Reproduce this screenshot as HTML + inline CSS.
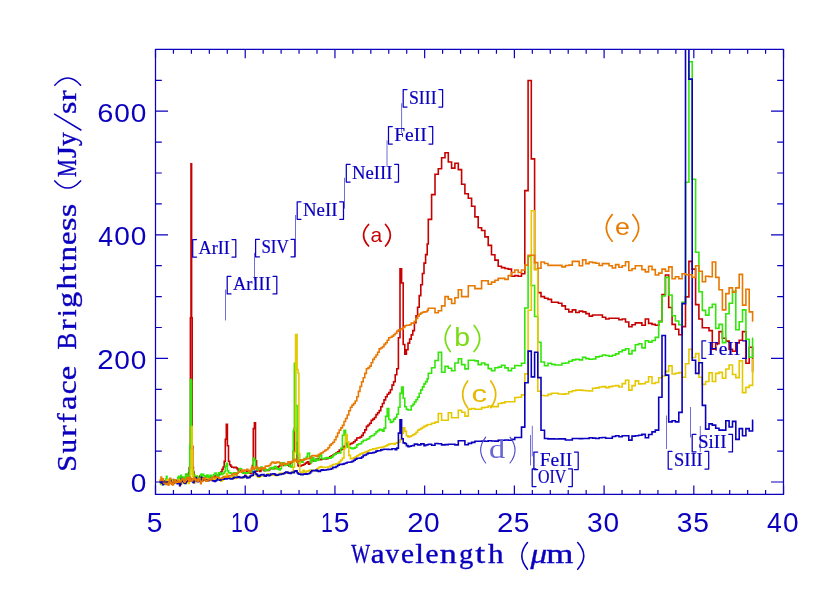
<!DOCTYPE html>
<html><head><meta charset="utf-8"><title>Spectra</title>
<style>html,body{margin:0;padding:0;background:#fff}svg{display:block}text{font-family:"Liberation Sans",sans-serif}.sf{font-family:"Liberation Serif",serif}</style></head><body>
<svg width="830" height="593" viewBox="0 0 830 593" style="will-change:transform">
<rect width="830" height="593" fill="#fff"/>
<defs><clipPath id="cp"><rect x="155.5" y="49.3" width="628.0" height="445.1"/></clipPath></defs>
<path d="M191.5,238.0V258.0M225.5,289.6V320.4M254.5,252.9V280.3M295.5,215.0V257.0M344.5,177.8V208.6M387.0,140.3V166.5M401.6,103.2V133.0M532.3,425.8V456.4M530.5,435.0V465.5M666.5,415.5V449.0M690.5,407.0V437.5M700.3,426.0V452.0" stroke="#0a00be" stroke-width="0.8" fill="none" stroke-opacity="0.72"/>
<g clip-path="url(#cp)" fill="none" stroke-width="1.6" stroke-linejoin="miter" stroke-linecap="butt">
<path d="M159.8,480.3 L160.4,480.3 L160.4,482.2 L161.0,482.2 L161.0,483.3 L161.6,483.3 L161.6,483.1 L162.2,483.1 L162.2,482.3 L162.8,482.3 L162.8,483.5 L163.4,483.5 L163.4,481.0 L164.0,481.0 L164.0,481.8 L164.6,481.8 L165.2,481.8 L165.2,481.3 L165.8,481.3 L165.8,480.9 L166.4,480.9 L166.4,483.7 L167.0,483.7 L167.0,483.1 L167.6,483.1 L167.6,481.8 L168.2,481.8 L168.2,480.9 L168.8,480.9 L168.8,482.5 L169.4,482.5 L169.4,482.6 L170.0,482.6 L170.6,482.6 L170.6,481.6 L171.2,481.6 L171.2,481.2 L171.8,481.2 L171.8,482.0 L172.4,482.0 L172.4,480.1 L173.0,480.1 L173.0,479.6 L173.6,479.6 L173.6,480.0 L174.2,480.0 L174.2,480.3 L174.8,480.3 L174.8,481.7 L175.4,481.7 L175.4,482.0 L176.0,482.0 L176.0,482.4 L176.6,482.4 L176.6,481.5 L177.2,481.5 L177.2,480.7 L177.8,480.7 L177.8,481.7 L178.4,481.7 L178.4,481.9 L179.0,481.9 L179.0,482.1 L179.6,482.1 L179.6,482.3 L180.2,482.3 L180.2,481.8 L180.8,481.8 L180.8,481.4 L181.4,481.4 L181.4,481.8 L182.0,481.8 L182.0,480.0 L182.6,480.0 L182.6,478.0 L183.2,478.0 L183.2,478.8 L183.8,478.8 L183.8,480.6 L184.4,480.6 L184.4,481.7 L185.0,481.7 L185.0,480.7 L185.6,480.7 L185.6,478.3 L186.2,478.3 L186.2,479.5 L186.8,479.5 L186.8,480.4 L187.4,480.4 L187.4,478.1 L188.0,478.1 L188.0,474.7 L188.6,474.7 L188.6,472.8 L189.2,472.8 L189.2,467.5 L189.8,467.5 L189.8,445.9 L190.4,445.9 L190.4,317.7 L191.0,317.7 L191.0,163.7 L191.6,163.7 L191.6,317.8 L192.2,317.8 L192.2,446.3 L192.8,446.3 L192.8,467.2 L193.4,467.2 L193.4,472.0 L194.0,472.0 L194.0,475.2 L194.6,475.2 L194.6,477.3 L195.2,477.3 L195.2,478.1 L195.8,478.1 L195.8,479.1 L196.4,479.1 L196.4,477.7 L197.0,477.7 L197.0,478.1 L197.6,478.1 L197.6,479.0 L198.2,479.0 L198.2,478.6 L198.8,478.6 L198.8,478.4 L199.4,478.4 L199.4,477.0 L200.0,477.0 L200.0,475.7 L200.6,475.7 L200.6,476.2 L201.2,476.2 L201.2,480.2 L201.5,480.2 L201.5,481.3 L202.6,481.3 L202.6,479.5 L203.7,479.5 L203.7,478.3 L204.7,478.3 L204.7,477.6 L205.8,477.6 L205.8,478.5 L206.9,478.5 L206.9,480.1 L208.0,480.1 L208.0,478.8 L209.1,478.8 L209.1,477.3 L210.1,477.3 L210.1,477.1 L211.2,477.1 L211.2,476.8 L212.3,476.8 L212.3,477.2 L213.4,477.2 L213.4,477.0 L214.5,477.0 L214.5,476.2 L215.5,476.2 L215.5,475.5 L216.6,475.5 L216.6,475.2 L217.7,475.2 L217.7,475.0 L218.8,475.0 L218.8,474.8 L219.9,474.8 L219.9,473.4 L220.9,473.4 L220.9,471.8 L222.0,471.8 L222.0,469.4 L223.1,469.4 L223.1,467.0 L224.2,467.0 L224.2,461.4 L225.3,461.4 L225.3,439.3 L226.3,439.3 L226.3,424.3 L227.4,424.3 L227.4,445.8 L228.5,445.8 L228.5,461.2 L229.6,461.2 L229.6,464.8 L230.7,464.8 L230.7,466.2 L231.7,466.2 L231.7,467.3 L232.8,467.3 L233.9,467.3 L233.9,467.8 L235.0,467.8 L235.0,467.2 L236.1,467.2 L236.1,467.7 L237.1,467.7 L237.1,468.9 L238.2,468.9 L238.2,470.5 L239.3,470.5 L239.3,470.3 L240.4,470.3 L240.4,470.4 L241.5,470.4 L241.5,472.0 L242.5,472.0 L242.5,472.3 L243.6,472.3 L243.6,472.6 L244.7,472.6 L244.7,473.6 L245.8,473.6 L245.8,472.4 L246.9,472.4 L246.9,471.9 L247.9,471.9 L247.9,472.8 L249.0,472.8 L249.0,472.7 L250.1,472.7 L250.1,473.3 L251.2,473.3 L251.2,472.8 L252.3,472.8 L252.3,465.5 L253.3,465.5 L253.3,428.6 L254.4,428.6 L254.4,422.9 L255.5,422.9 L255.5,460.8 L256.6,460.8 L256.6,471.1 L257.7,471.1 L257.7,469.6 L258.7,469.6 L258.7,469.4 L259.8,469.4 L259.8,471.4 L260.9,471.4 L260.9,469.5 L262.0,469.5 L262.0,468.4 L263.1,468.4 L263.1,469.8 L264.1,469.8 L264.1,470.7 L265.2,470.7 L265.2,469.5 L266.3,469.5 L266.3,469.7 L267.4,469.7 L267.4,470.4 L268.5,470.4 L269.5,470.4 L269.5,468.7 L270.6,468.7 L270.6,468.1 L271.7,468.1 L271.7,468.7 L272.8,468.7 L272.8,468.4 L273.9,468.4 L273.9,468.6 L274.9,468.6 L274.9,467.4 L276.0,467.4 L276.0,467.2 L277.1,467.2 L277.1,467.4 L278.2,467.4 L278.2,466.8 L279.3,466.8 L279.3,465.7 L280.3,465.7 L280.3,465.3 L281.4,465.3 L281.4,465.4 L282.5,465.4 L282.5,465.5 L283.6,465.5 L283.6,465.3 L284.7,465.3 L284.7,464.7 L285.7,464.7 L285.7,464.4 L286.8,464.4 L286.8,464.2 L287.9,464.2 L287.9,465.3 L289.0,465.3 L289.0,466.1 L290.1,466.1 L290.1,463.3 L291.1,463.3 L291.1,461.8 L292.2,461.8 L293.3,461.8 L293.3,451.2 L294.4,451.2 L294.4,428.2 L295.6,428.2 L295.6,442.8 L297.1,442.8 L297.1,462.1 L298.0,462.1 L298.0,465.8 L298.9,465.8 L298.9,466.1 L299.8,466.1 L300.9,466.1 L300.9,465.4 L302.0,465.4 L302.0,465.3 L303.1,465.3 L303.1,464.7 L304.1,464.7 L304.1,464.2 L305.2,464.2 L305.2,463.2 L306.3,463.2 L306.3,462.6 L307.4,462.6 L307.4,461.9 L308.5,461.9 L308.5,464.1 L309.5,464.1 L309.5,463.4 L310.6,463.4 L310.6,460.7 L311.7,460.7 L311.7,459.2 L312.8,459.2 L312.8,460.7 L313.9,460.7 L313.9,461.0 L314.9,461.0 L314.9,460.2 L316.0,460.2 L316.0,459.0 L317.1,459.0 L317.1,459.3 L318.2,459.3 L318.2,458.8 L319.3,458.8 L319.3,459.3 L320.3,459.3 L320.3,459.7 L321.6,459.7 L321.6,459.0 L323.2,459.0 L323.2,458.8 L324.8,458.8 L324.8,458.9 L326.4,458.9 L326.4,458.7 L328.0,458.7 L328.0,458.1 L329.6,458.1 L329.6,456.7 L331.2,456.7 L331.2,455.8 L332.8,455.8 L332.8,455.0 L334.4,455.0 L334.4,454.1 L336.0,454.1 L336.0,452.7 L337.6,452.7 L337.6,451.7 L339.2,451.7 L339.2,450.1 L340.8,450.1 L340.8,449.4 L342.4,449.4 L342.4,448.9 L344.0,448.9 L344.0,446.2 L345.6,446.2 L345.6,442.8 L347.2,442.8 L347.2,444.7 L348.8,444.7 L348.8,444.5 L350.4,444.5 L350.4,443.6 L352.0,443.6 L352.0,443.0 L353.6,443.0 L353.6,441.7 L355.2,441.7 L355.2,440.1 L356.8,440.1 L356.8,438.0 L358.4,438.0 L358.4,437.9 L360.0,437.9 L360.0,437.1 L361.6,437.1 L361.6,435.4 L363.2,435.4 L363.2,432.8 L364.8,432.8 L364.8,429.9 L366.4,429.9 L366.4,426.4 L368.0,426.4 L368.0,425.0 L369.6,425.0 L369.6,423.3 L371.2,423.3 L371.2,420.4 L372.8,420.4 L372.8,419.1 L374.4,419.1 L374.4,417.5 L376.0,417.5 L376.0,414.6 L377.6,414.6 L377.6,412.7 L379.2,412.7 L379.2,410.6 L380.8,410.6 L380.8,406.7 L382.4,406.7 L382.4,403.5 L384.0,403.5 L384.0,399.9 L385.6,399.9 L385.6,396.8 L387.2,396.8 L387.2,394.2 L388.8,394.2 L388.8,392.6 L390.4,392.6 L390.4,389.8 L392.0,389.8 L392.0,385.1 L393.6,385.1 L393.6,381.8 L395.2,381.8 L395.2,374.8 L396.8,374.8 L396.8,368.7 L398.4,368.7 L398.4,337.7 L400.0,337.7 L400.0,268.8 L401.6,268.8 L401.6,283.0 L403.2,283.0 L403.2,344.5 L404.8,344.5 L404.8,354.1 L406.4,354.1 L406.4,349.7 L408.0,349.7 L408.0,343.1 L409.6,343.1 L409.6,339.1 L411.2,339.1 L411.2,334.9 L412.8,334.9 L412.8,330.6 L414.4,330.6 L414.4,322.6 L416.0,322.6 L416.0,315.9 L417.6,315.9 L417.6,307.3 L419.2,307.3 L419.2,295.6 L420.8,295.6 L420.8,284.8 L422.4,284.8 L422.4,273.5 L424.0,273.5 L424.0,263.1 L425.6,263.1 L425.6,254.6 L427.2,254.6 L427.2,244.0 L428.3,244.0 L428.3,219.4 L431.6,219.4 L431.6,194.6 L435.0,194.6 L435.0,174.2 L438.3,174.2 L438.3,168.7 L441.6,168.7 L441.6,157.8 L445.0,157.8 L445.0,152.7 L448.3,152.7 L448.3,162.0 L451.6,162.0 L451.6,168.1 L454.9,168.1 L454.9,163.2 L458.3,163.2 L458.3,169.6 L461.6,169.6 L461.6,184.2 L464.9,184.2 L464.9,193.7 L468.3,193.7 L468.3,198.3 L471.6,198.3 L471.6,206.2 L474.9,206.2 L474.9,216.9 L478.2,216.9 L478.2,227.8 L481.6,227.8 L481.6,230.5 L484.9,230.5 L484.9,236.9 L488.2,236.9 L488.2,245.4 L491.5,245.4 L491.5,254.7 L494.9,254.7 L494.9,260.1 L498.2,260.1 L498.2,266.2 L501.5,266.2 L501.5,267.6 L504.9,267.6 L504.9,268.5 L508.2,268.5 L508.2,269.1 L511.5,269.1 L511.5,276.2 L514.8,276.2 L514.8,275.6 L518.2,275.6 L518.2,276.2 L521.5,276.2 L521.5,273.7 L524.8,273.7 L524.8,190.6 L528.1,190.6 L528.1,80.5 L531.3,80.5 L531.3,158.9 L534.6,158.9 L534.6,269.4 L537.8,269.4 L537.8,292.6 L541.0,292.6 L541.0,296.6 L544.5,296.6 L544.5,298.2 L548.0,298.2 L548.0,299.4 L551.5,299.4 L551.5,302.2 L554.9,302.2 L558.4,302.2 L558.4,303.2 L561.9,303.2 L561.9,305.9 L565.4,305.9 L565.4,309.2 L568.8,309.2 L568.8,311.9 L572.3,311.9 L572.3,309.9 L575.8,309.9 L575.8,312.5 L579.2,312.5 L579.2,311.1 L582.6,311.1 L582.6,311.9 L585.9,311.9 L585.9,313.6 L589.2,313.6 L589.2,316.1 L592.5,316.1 L592.5,315.0 L595.8,315.0 L599.1,315.0 L602.4,315.0 L602.4,317.2 L605.7,317.2 L605.7,319.0 L609.0,319.0 L609.0,318.3 L612.3,318.3 L615.6,318.3 L618.9,318.3 L618.9,319.8 L622.2,319.8 L622.2,319.0 L625.5,319.0 L625.5,322.0 L628.8,322.0 L628.8,326.8 L632.0,326.8 L632.0,324.8 L635.3,324.8 L635.3,322.9 L638.6,322.9 L641.9,322.9 L641.9,325.3 L645.3,325.3 L645.3,319.0 L648.6,319.0 L648.6,323.4 L652.0,323.4 L652.0,324.4 L655.3,324.4 L655.3,325.3 L658.7,325.3 L658.7,321.4 L662.0,321.4 L662.0,294.5 L665.4,294.5 L665.4,275.0 L668.7,275.0 L668.7,307.5 L672.1,307.5 L672.1,324.4 L675.4,324.4 L675.4,329.2 L678.8,329.2 L678.8,334.7 L682.1,334.7 L682.1,326.6 L685.5,326.6 L685.5,296.9 L688.9,296.9 L688.9,261.4 L692.2,261.4 L692.2,269.1 L695.6,269.1 L695.6,304.6 L698.9,304.6 L698.9,319.0 L702.3,319.0 L702.3,327.7 L705.6,327.7 L709.0,327.7 L709.0,330.6 L712.3,330.6 L712.3,349.1 L715.7,349.1 L715.7,343.6 L719.0,343.6 L719.0,331.6 L722.4,331.6 L722.4,338.3 L725.8,338.3 L725.8,341.1 L729.1,341.1 L729.1,349.3 L732.5,349.3 L732.5,351.2 L735.8,351.2 L735.8,342.9 L739.2,342.9 L739.2,340.2 L742.5,340.2 L742.5,331.6 L745.9,331.6 L745.9,363.2 L749.2,363.2 L749.2,347.3 L752.6,347.3 L752.6,371.4 L753.2,371.4" stroke="#c80000"/>
<path d="M159.8,482.7 L160.4,482.7 L160.4,483.5 L161.0,483.5 L161.0,484.5 L161.6,484.5 L161.6,481.2 L162.2,481.2 L162.2,484.2 L162.8,484.2 L162.8,483.7 L163.4,483.7 L163.4,481.7 L164.0,481.7 L164.0,483.7 L164.6,483.7 L164.6,484.3 L165.2,484.3 L165.2,482.9 L165.8,482.9 L165.8,479.0 L166.4,479.0 L166.4,476.3 L167.0,476.3 L167.0,479.8 L167.6,479.8 L167.6,482.1 L168.2,482.1 L168.2,480.5 L168.8,480.5 L168.8,481.0 L169.4,481.0 L169.4,479.9 L170.0,479.9 L170.0,478.5 L170.6,478.5 L170.6,480.6 L171.2,480.6 L171.2,480.9 L171.8,480.9 L171.8,481.4 L172.4,481.4 L172.4,480.3 L173.0,480.3 L173.0,479.8 L173.6,479.8 L173.6,481.2 L174.2,481.2 L174.2,480.7 L174.8,480.7 L174.8,480.3 L175.4,480.3 L175.4,481.1 L176.0,481.1 L176.0,482.4 L176.6,482.4 L176.6,482.3 L177.2,482.3 L177.2,480.1 L177.8,480.1 L177.8,477.9 L178.4,477.9 L178.4,476.4 L179.0,476.4 L179.0,481.4 L179.6,481.4 L179.6,479.5 L180.2,479.5 L180.2,476.7 L180.8,476.7 L180.8,475.3 L181.4,475.3 L181.4,476.9 L182.0,476.9 L182.0,479.2 L182.6,479.2 L182.6,478.1 L183.2,478.1 L183.2,477.0 L183.8,477.0 L183.8,477.4 L184.4,477.4 L184.4,477.6 L185.0,477.6 L185.0,479.2 L185.6,479.2 L185.6,474.6 L186.2,474.6 L186.2,473.8 L186.8,473.8 L186.8,476.4 L187.4,476.4 L187.4,475.9 L188.0,475.9 L188.0,476.2 L188.6,476.2 L189.2,476.2 L189.2,471.0 L189.8,471.0 L189.8,445.5 L190.4,445.5 L190.4,379.6 L191.0,379.6 L191.0,380.2 L191.6,380.2 L191.6,446.9 L192.2,446.9 L192.2,468.7 L192.8,468.7 L192.8,471.2 L193.4,471.2 L193.4,475.4 L194.0,475.4 L194.0,475.0 L194.6,475.0 L194.6,476.8 L195.2,476.8 L195.2,481.0 L195.8,481.0 L195.8,478.9 L196.4,478.9 L196.4,476.8 L197.0,476.8 L197.0,476.0 L197.6,476.0 L197.6,477.0 L198.2,477.0 L198.2,480.8 L198.8,480.8 L198.8,478.2 L199.4,478.2 L199.4,478.8 L200.0,478.8 L200.0,479.6 L200.6,479.6 L200.6,475.1 L201.2,475.1 L201.2,474.0 L201.5,474.0 L201.5,476.0 L202.6,476.0 L202.6,474.4 L203.7,474.4 L203.7,475.7 L204.7,475.7 L204.7,476.6 L205.8,476.6 L205.8,476.1 L206.9,476.1 L206.9,475.0 L208.0,475.0 L208.0,478.1 L209.1,478.1 L209.1,476.2 L210.1,476.2 L210.1,475.2 L211.2,475.2 L211.2,477.5 L212.3,477.5 L212.3,476.2 L213.4,476.2 L213.4,474.7 L214.5,474.7 L214.5,473.2 L215.5,473.2 L215.5,473.0 L216.6,473.0 L216.6,475.4 L217.7,475.4 L217.7,476.1 L218.8,476.1 L218.8,472.9 L219.9,472.9 L219.9,472.5 L220.9,472.5 L220.9,474.4 L222.0,474.4 L222.0,474.0 L223.1,474.0 L223.1,473.3 L224.2,473.3 L224.2,471.8 L225.3,471.8 L225.3,466.4 L226.3,466.4 L226.3,463.2 L227.4,463.2 L227.4,470.7 L228.5,470.7 L228.5,472.5 L229.6,472.5 L229.6,472.9 L230.7,472.9 L230.7,473.3 L231.7,473.3 L232.8,473.3 L232.8,475.6 L233.9,475.6 L233.9,472.9 L235.0,472.9 L236.1,472.9 L236.1,474.4 L237.1,474.4 L237.1,473.2 L238.2,473.2 L238.2,471.9 L239.3,471.9 L239.3,468.6 L240.4,468.6 L240.4,468.7 L241.5,468.7 L241.5,471.3 L242.5,471.3 L242.5,473.2 L243.6,473.2 L244.7,473.2 L244.7,472.8 L245.8,472.8 L245.8,472.9 L246.9,472.9 L246.9,473.2 L247.9,473.2 L247.9,472.6 L249.0,472.6 L249.0,471.9 L250.1,471.9 L250.1,472.0 L251.2,472.0 L251.2,472.1 L252.3,472.1 L252.3,468.1 L253.3,468.1 L253.3,458.0 L254.4,458.0 L254.4,460.4 L255.5,460.4 L255.5,468.2 L256.6,468.2 L256.6,469.7 L257.7,469.7 L257.7,469.9 L258.7,469.9 L258.7,469.0 L259.8,469.0 L259.8,467.8 L260.9,467.8 L260.9,467.1 L262.0,467.1 L262.0,468.2 L263.1,468.2 L263.1,469.7 L264.1,469.7 L264.1,468.9 L265.2,468.9 L265.2,470.8 L266.3,470.8 L266.3,470.0 L267.4,470.0 L267.4,469.9 L268.5,469.9 L269.5,469.9 L269.5,468.2 L270.6,468.2 L270.6,467.7 L271.7,467.7 L271.7,467.5 L272.8,467.5 L272.8,469.0 L273.9,469.0 L273.9,467.1 L274.9,467.1 L274.9,466.4 L276.0,466.4 L276.0,467.7 L277.1,467.7 L277.1,469.2 L278.2,469.2 L278.2,468.8 L279.3,468.8 L279.3,470.0 L280.3,470.0 L280.3,468.7 L281.4,468.7 L281.4,462.7 L282.5,462.7 L282.5,462.8 L283.6,462.8 L283.6,463.6 L284.7,463.6 L284.7,465.5 L285.7,465.5 L285.7,464.9 L286.8,464.9 L286.8,464.2 L287.9,464.2 L287.9,464.4 L289.0,464.4 L289.0,465.2 L290.1,465.2 L290.1,466.4 L291.1,466.4 L291.1,467.2 L292.2,467.2 L292.2,461.3 L293.3,461.3 L293.3,430.6 L294.4,430.6 L294.4,363.4 L295.6,363.4 L295.6,405.6 L297.1,405.6 L297.1,454.2 L298.0,454.2 L298.0,462.0 L298.9,462.0 L298.9,463.1 L299.8,463.1 L299.8,460.9 L300.9,460.9 L300.9,461.7 L302.0,461.7 L302.0,462.3 L303.1,462.3 L303.1,460.1 L304.1,460.1 L304.1,458.6 L305.2,458.6 L305.2,458.8 L306.3,458.8 L306.3,457.0 L307.4,457.0 L307.4,453.6 L308.5,453.6 L308.5,453.1 L309.5,453.1 L309.5,456.9 L310.6,456.9 L310.6,462.6 L311.7,462.6 L311.7,459.6 L312.8,459.6 L312.8,457.6 L313.9,457.6 L313.9,460.3 L314.9,460.3 L314.9,461.3 L316.0,461.3 L316.0,459.3 L317.1,459.3 L317.1,460.1 L318.2,460.1 L318.2,459.9 L319.3,459.9 L319.3,455.9 L320.3,455.9 L320.3,454.8 L321.6,454.8 L321.6,458.5 L323.2,458.5 L323.2,458.9 L324.8,458.9 L324.8,458.1 L326.4,458.1 L326.4,457.6 L328.0,457.6 L328.0,457.9 L329.6,457.9 L329.6,458.3 L331.2,458.3 L331.2,457.1 L332.8,457.1 L332.8,455.5 L334.4,455.5 L334.4,454.3 L336.0,454.3 L336.0,453.3 L337.6,453.3 L337.6,453.0 L339.2,453.0 L340.8,453.0 L340.8,448.3 L342.4,448.3 L342.4,435.3 L344.0,435.3 L344.0,430.4 L345.6,430.4 L345.6,441.8 L347.2,441.8 L347.2,447.1 L348.8,447.1 L348.8,447.2 L350.4,447.2 L350.4,448.1 L352.0,448.1 L352.0,448.6 L353.6,448.6 L353.6,448.1 L355.2,448.1 L355.2,447.2 L356.8,447.2 L356.8,444.9 L358.4,444.9 L358.4,444.0 L360.0,444.0 L360.0,443.7 L361.6,443.7 L361.6,441.7 L363.2,441.7 L363.2,440.4 L364.8,440.4 L364.8,440.2 L366.4,440.2 L366.4,439.3 L368.0,439.3 L368.0,438.7 L369.6,438.7 L369.6,436.7 L371.2,436.7 L371.2,435.8 L372.8,435.8 L372.8,435.5 L374.4,435.5 L374.4,433.8 L376.0,433.8 L376.0,431.9 L377.6,431.9 L377.6,430.6 L379.2,430.6 L379.2,429.4 L380.8,429.4 L380.8,429.9 L382.4,429.9 L382.4,431.1 L384.0,431.1 L384.0,428.1 L385.6,428.1 L385.6,416.4 L387.2,416.4 L387.2,408.5 L388.8,408.5 L388.8,419.5 L390.4,419.5 L390.4,422.4 L392.0,422.4 L392.0,421.5 L393.6,421.5 L393.6,419.1 L395.2,419.1 L395.2,417.5 L396.8,417.5 L396.8,414.2 L398.4,414.2 L398.4,407.3 L400.0,407.3 L400.0,393.4 L401.6,393.4 L401.6,387.0 L403.2,387.0 L403.2,398.3 L404.8,398.3 L404.8,406.8 L406.4,406.8 L406.4,409.2 L408.0,409.2 L408.0,410.0 L409.6,410.0 L411.2,410.0 L411.2,405.9 L412.8,405.9 L412.8,404.4 L414.4,404.4 L414.4,401.9 L416.0,401.9 L416.0,399.8 L417.6,399.8 L417.6,397.1 L419.2,397.1 L419.2,393.2 L420.8,393.2 L420.8,389.9 L422.4,389.9 L422.4,386.9 L424.0,386.9 L424.0,383.9 L425.6,383.9 L425.6,381.6 L427.2,381.6 L427.2,378.9 L428.3,378.9 L428.3,373.2 L431.6,373.2 L431.6,367.7 L435.0,367.7 L435.0,360.5 L438.3,360.5 L438.3,352.2 L441.6,352.2 L441.6,372.3 L445.0,372.3 L445.0,366.4 L448.3,366.4 L448.3,368.3 L451.6,368.3 L451.6,370.8 L454.9,370.8 L454.9,363.0 L458.3,363.0 L458.3,358.8 L461.6,358.8 L461.6,364.6 L464.9,364.6 L464.9,368.9 L468.3,368.9 L468.3,360.3 L471.6,360.3 L474.9,360.3 L474.9,360.9 L478.2,360.9 L478.2,364.6 L481.6,364.6 L481.6,363.0 L484.9,363.0 L484.9,364.6 L488.2,364.6 L488.2,368.6 L491.5,368.6 L491.5,370.8 L494.9,370.8 L494.9,367.7 L498.2,367.7 L498.2,367.1 L501.5,367.1 L501.5,365.2 L504.9,365.2 L504.9,367.9 L508.2,367.9 L508.2,370.8 L511.5,370.8 L511.5,368.3 L514.8,368.3 L514.8,365.5 L518.2,365.5 L518.2,365.8 L521.5,365.8 L521.5,363.3 L524.8,363.3 L524.8,308.0 L528.1,308.0 L528.1,256.4 L531.3,256.4 L531.3,285.5 L534.6,285.5 L534.6,316.5 L537.8,316.5 L537.8,342.3 L541.0,342.3 L541.0,362.0 L544.5,362.0 L544.5,365.8 L548.0,365.8 L548.0,363.3 L551.5,363.3 L551.5,364.4 L554.9,364.4 L554.9,365.0 L558.4,365.0 L561.9,365.0 L561.9,363.3 L565.4,363.3 L565.4,363.0 L568.8,363.0 L568.8,361.3 L572.3,361.3 L572.3,359.9 L575.8,359.9 L575.8,359.3 L579.2,359.3 L579.2,359.9 L582.6,359.9 L582.6,357.3 L585.9,357.3 L585.9,358.6 L589.2,358.6 L589.2,359.3 L592.5,359.3 L592.5,359.0 L595.8,359.0 L595.8,356.9 L599.1,356.9 L599.1,356.3 L602.4,356.3 L602.4,355.0 L605.7,355.0 L605.7,355.5 L609.0,355.5 L609.0,356.3 L612.3,356.3 L612.3,355.3 L615.6,355.3 L615.6,353.9 L618.9,353.9 L618.9,351.8 L622.2,351.8 L622.2,350.1 L625.5,350.1 L625.5,348.8 L628.8,348.8 L628.8,353.9 L632.0,353.9 L632.0,350.6 L635.3,350.6 L635.3,344.7 L638.6,344.7 L638.6,343.8 L641.9,343.8 L641.9,347.9 L645.3,347.9 L645.3,340.7 L648.6,340.7 L648.6,342.1 L652.0,342.1 L652.0,340.5 L655.3,340.5 L655.3,337.4 L658.7,337.4 L658.7,321.9 L662.0,321.9 L662.0,296.0 L665.4,296.0 L665.4,277.4 L668.7,277.4 L668.7,295.0 L672.1,295.0 L672.1,315.8 L675.4,315.8 L675.4,321.0 L678.8,321.0 L678.8,324.8 L682.1,324.8 L682.1,302.2 L685.5,302.2 L685.5,182.3 L688.9,182.3 L688.9,61.8 L692.2,61.8 L692.2,179.2 L695.6,179.2 L695.6,252.2 L698.9,252.2 L698.9,291.7 L702.3,291.7 L702.3,310.4 L705.6,310.4 L705.6,315.1 L709.0,315.1 L709.0,307.5 L712.3,307.5 L712.3,304.3 L715.7,304.3 L715.7,328.4 L719.0,328.4 L719.0,324.4 L722.4,324.4 L722.4,342.6 L725.8,342.6 L725.8,313.7 L729.1,313.7 L729.1,303.2 L732.5,303.2 L732.5,291.2 L735.8,291.2 L735.8,329.7 L739.2,329.7 L739.2,321.8 L742.5,321.8 L742.5,309.9 L745.9,309.9 L745.9,339.2 L749.2,339.2 L749.2,357.2 L752.6,357.2 L752.6,338.3 L753.2,338.3" stroke="#32e60a"/>
<path d="M159.8,479.9 L160.4,479.9 L160.4,480.8 L161.0,480.8 L161.0,482.4 L161.6,482.4 L161.6,484.1 L162.2,484.1 L162.2,483.2 L162.8,483.2 L162.8,482.5 L163.4,482.5 L164.0,482.5 L164.0,482.7 L164.6,482.7 L164.6,482.5 L165.2,482.5 L165.2,483.1 L165.8,483.1 L165.8,483.3 L166.4,483.3 L166.4,481.2 L167.0,481.2 L167.0,480.0 L167.6,480.0 L167.6,479.8 L168.2,479.8 L168.2,481.4 L168.8,481.4 L168.8,482.6 L169.4,482.6 L169.4,483.4 L170.0,483.4 L170.0,483.5 L170.6,483.5 L170.6,481.9 L171.2,481.9 L171.2,483.3 L171.8,483.3 L171.8,483.8 L172.4,483.8 L172.4,482.1 L173.0,482.1 L173.0,480.3 L173.6,480.3 L173.6,481.5 L174.2,481.5 L174.2,483.2 L174.8,483.2 L174.8,482.8 L175.4,482.8 L175.4,481.5 L176.0,481.5 L176.0,482.0 L176.6,482.0 L176.6,482.8 L177.2,482.8 L177.2,482.0 L177.8,482.0 L177.8,480.2 L178.4,480.2 L178.4,479.6 L179.0,479.6 L179.0,482.4 L179.6,482.4 L179.6,483.0 L180.2,483.0 L180.2,483.6 L180.8,483.6 L180.8,484.8 L181.4,484.8 L181.4,483.8 L182.0,483.8 L182.0,482.4 L182.6,482.4 L182.6,480.6 L183.2,480.6 L183.2,481.6 L183.8,481.6 L183.8,482.9 L184.4,482.9 L184.4,481.3 L185.0,481.3 L185.0,482.0 L185.6,482.0 L185.6,483.4 L186.2,483.4 L186.2,482.7 L186.8,482.7 L186.8,482.3 L187.4,482.3 L187.4,482.2 L188.0,482.2 L188.0,482.1 L188.6,482.1 L188.6,483.5 L189.2,483.5 L189.2,481.7 L189.8,481.7 L189.8,479.3 L190.4,479.3 L190.4,474.2 L191.0,474.2 L191.0,450.2 L191.6,450.2 L191.6,426.6 L192.2,426.6 L192.2,450.4 L192.8,450.4 L192.8,476.2 L193.4,476.2 L193.4,480.6 L194.0,480.6 L194.0,482.5 L194.6,482.5 L194.6,482.6 L195.2,482.6 L195.2,482.4 L195.8,482.4 L195.8,479.5 L196.4,479.5 L196.4,478.6 L197.0,478.6 L197.0,479.4 L197.6,479.4 L197.6,478.7 L198.2,478.7 L198.2,480.3 L198.8,480.3 L199.4,480.3 L199.4,480.4 L200.0,480.4 L200.0,481.1 L200.6,481.1 L200.6,479.3 L201.2,479.3 L201.2,478.2 L201.5,478.2 L201.5,480.1 L202.6,480.1 L202.6,479.6 L203.7,479.6 L203.7,479.4 L204.7,479.4 L204.7,478.6 L205.8,478.6 L205.8,478.8 L206.9,478.8 L206.9,478.9 L208.0,478.9 L209.1,478.9 L209.1,479.5 L210.1,479.5 L210.1,480.0 L211.2,480.0 L211.2,479.1 L212.3,479.1 L212.3,479.8 L213.4,479.8 L213.4,479.2 L214.5,479.2 L214.5,478.9 L215.5,478.9 L215.5,479.4 L216.6,479.4 L216.6,478.8 L217.7,478.8 L217.7,478.1 L218.8,478.1 L218.8,478.8 L219.9,478.8 L219.9,480.0 L220.9,480.0 L220.9,481.1 L222.0,481.1 L222.0,480.1 L223.1,480.1 L223.1,479.3 L224.2,479.3 L224.2,478.7 L225.3,478.7 L225.3,476.4 L226.3,476.4 L226.3,473.5 L227.4,473.5 L227.4,475.7 L228.5,475.7 L228.5,477.7 L229.6,477.7 L229.6,477.8 L230.7,477.8 L230.7,478.5 L231.7,478.5 L231.7,477.8 L232.8,477.8 L232.8,476.3 L233.9,476.3 L233.9,477.0 L235.0,477.0 L235.0,478.4 L236.1,478.4 L236.1,477.9 L237.1,477.9 L237.1,476.9 L238.2,476.9 L238.2,476.5 L239.3,476.5 L239.3,477.2 L240.4,477.2 L240.4,477.8 L241.5,477.8 L241.5,477.7 L242.5,477.7 L242.5,476.9 L243.6,476.9 L244.7,476.9 L244.7,477.4 L245.8,477.4 L245.8,477.3 L246.9,477.3 L246.9,477.0 L247.9,477.0 L247.9,476.6 L249.0,476.6 L249.0,476.9 L250.1,476.9 L250.1,476.3 L251.2,476.3 L251.2,475.7 L252.3,475.7 L252.3,475.6 L253.3,475.6 L253.3,473.9 L254.4,473.9 L254.4,472.2 L255.5,472.2 L255.5,474.8 L256.6,474.8 L256.6,476.0 L257.7,476.0 L257.7,476.9 L258.7,476.9 L258.7,477.3 L259.8,477.3 L259.8,476.1 L260.9,476.1 L260.9,475.6 L262.0,475.6 L262.0,475.7 L263.1,475.7 L264.1,475.7 L264.1,476.1 L265.2,476.1 L265.2,476.2 L266.3,476.2 L266.3,475.3 L267.4,475.3 L267.4,473.9 L268.5,473.9 L268.5,474.4 L269.5,474.4 L269.5,475.2 L270.6,475.2 L270.6,474.9 L271.7,474.9 L271.7,475.2 L272.8,475.2 L272.8,475.0 L273.9,475.0 L273.9,474.3 L274.9,474.3 L274.9,475.1 L276.0,475.1 L276.0,475.8 L277.1,475.8 L277.1,475.2 L278.2,475.2 L278.2,474.2 L279.3,474.2 L279.3,473.6 L280.3,473.6 L280.3,473.2 L281.4,473.2 L281.4,473.7 L282.5,473.7 L282.5,473.2 L283.6,473.2 L283.6,473.0 L284.7,473.0 L284.7,473.1 L285.7,473.1 L285.7,472.6 L286.8,472.6 L286.8,472.7 L287.9,472.7 L287.9,473.1 L289.0,473.1 L289.0,472.6 L290.1,472.6 L290.1,473.2 L291.1,473.2 L291.1,472.8 L292.2,472.8 L292.2,471.7 L293.3,471.7 L293.3,467.1 L294.4,467.1 L294.4,452.3 L295.6,452.3 L295.6,334.6 L297.1,334.6 L297.1,369.5 L298.0,369.5 L298.0,373.2 L298.9,373.2 L298.9,453.6 L299.8,453.6 L299.8,472.0 L300.9,472.0 L300.9,472.6 L302.0,472.6 L302.0,472.3 L303.1,472.3 L303.1,470.4 L304.1,470.4 L304.1,471.5 L305.2,471.5 L305.2,472.2 L306.3,472.2 L306.3,471.0 L307.4,471.0 L307.4,471.5 L308.5,471.5 L308.5,470.7 L309.5,470.7 L309.5,470.1 L310.6,470.1 L310.6,470.7 L311.7,470.7 L312.8,470.7 L312.8,470.3 L313.9,470.3 L313.9,470.2 L314.9,470.2 L314.9,470.7 L316.0,470.7 L316.0,470.3 L317.1,470.3 L317.1,468.9 L318.2,468.9 L318.2,467.7 L319.3,467.7 L319.3,467.2 L320.3,467.2 L320.3,466.5 L321.6,466.5 L321.6,467.3 L323.2,467.3 L323.2,467.4 L324.8,467.4 L324.8,467.3 L326.4,467.3 L326.4,467.4 L328.0,467.4 L328.0,467.0 L329.6,467.0 L329.6,466.4 L331.2,466.4 L331.2,465.3 L332.8,465.3 L332.8,464.5 L334.4,464.5 L334.4,464.2 L336.0,464.2 L336.0,463.8 L337.6,463.8 L337.6,463.3 L339.2,463.3 L339.2,461.6 L340.8,461.6 L340.8,460.0 L342.4,460.0 L342.4,458.0 L344.0,458.0 L344.0,448.5 L345.6,448.5 L345.6,434.6 L347.2,434.6 L347.2,441.9 L348.8,441.9 L348.8,455.4 L350.4,455.4 L350.4,458.8 L352.0,458.8 L352.0,458.5 L353.6,458.5 L353.6,457.7 L355.2,457.7 L355.2,456.8 L356.8,456.8 L356.8,455.9 L358.4,455.9 L358.4,454.9 L360.0,454.9 L360.0,453.9 L361.6,453.9 L361.6,453.2 L363.2,453.2 L363.2,452.8 L364.8,452.8 L364.8,452.1 L366.4,452.1 L366.4,451.5 L368.0,451.5 L368.0,450.7 L369.6,450.7 L369.6,449.7 L371.2,449.7 L371.2,449.5 L372.8,449.5 L372.8,448.9 L374.4,448.9 L376.0,448.9 L376.0,448.4 L377.6,448.4 L377.6,447.8 L379.2,447.8 L379.2,447.6 L380.8,447.6 L380.8,447.3 L382.4,447.3 L382.4,447.0 L384.0,447.0 L384.0,446.5 L385.6,446.5 L385.6,445.8 L387.2,445.8 L387.2,444.9 L388.8,444.9 L388.8,444.1 L390.4,444.1 L390.4,443.8 L392.0,443.8 L392.0,443.5 L393.6,443.5 L393.6,444.1 L395.2,444.1 L395.2,443.3 L396.8,443.3 L396.8,442.6 L398.4,442.6 L398.4,442.3 L400.0,442.3 L400.0,439.7 L401.6,439.7 L401.6,433.2 L403.2,433.2 L403.2,427.7 L404.8,427.7 L404.8,431.4 L406.4,431.4 L406.4,435.8 L408.0,435.8 L408.0,436.9 L409.6,436.9 L409.6,436.4 L411.2,436.4 L411.2,435.7 L412.8,435.7 L412.8,434.7 L414.4,434.7 L414.4,433.9 L416.0,433.9 L416.0,432.3 L417.6,432.3 L417.6,430.3 L419.2,430.3 L419.2,429.4 L420.8,429.4 L420.8,428.5 L422.4,428.5 L422.4,427.4 L424.0,427.4 L424.0,426.4 L425.6,426.4 L425.6,425.6 L427.2,425.6 L427.2,424.8 L428.3,424.8 L428.3,424.5 L431.6,424.5 L431.6,423.3 L435.0,423.3 L435.0,422.1 L438.3,422.1 L438.3,413.5 L441.6,413.5 L441.6,420.2 L445.0,420.2 L448.3,420.2 L448.3,412.8 L451.6,412.8 L451.6,417.7 L454.9,417.7 L458.3,417.7 L458.3,410.3 L461.6,410.3 L461.6,412.2 L464.9,412.2 L464.9,416.1 L468.3,416.1 L468.3,409.1 L471.6,409.1 L471.6,408.5 L474.9,408.5 L474.9,409.3 L478.2,409.3 L481.6,409.3 L481.6,407.6 L484.9,407.6 L484.9,407.2 L488.2,407.2 L488.2,406.0 L491.5,406.0 L491.5,406.6 L494.9,406.6 L498.2,406.6 L498.2,403.5 L501.5,403.5 L501.5,402.9 L504.9,402.9 L504.9,401.7 L508.2,401.7 L511.5,401.7 L514.8,401.7 L514.8,397.5 L518.2,397.5 L518.2,397.3 L521.5,397.3 L521.5,394.9 L524.8,394.9 L524.8,373.9 L528.1,373.9 L528.1,310.2 L531.3,310.2 L531.3,210.7 L534.6,210.7 L534.6,269.4 L537.8,269.4 L537.8,391.2 L541.0,391.2 L541.0,395.5 L544.5,395.5 L544.5,395.7 L548.0,395.7 L548.0,394.4 L551.5,394.4 L551.5,393.3 L554.9,393.3 L558.4,393.3 L558.4,394.0 L561.9,394.0 L561.9,394.1 L565.4,394.1 L565.4,393.8 L568.8,393.8 L568.8,391.7 L572.3,391.7 L572.3,390.7 L575.8,390.7 L575.8,390.1 L579.2,390.1 L582.6,390.1 L582.6,390.5 L585.9,390.5 L585.9,390.7 L589.2,390.7 L589.2,391.0 L592.5,391.0 L592.5,388.3 L595.8,388.3 L595.8,387.9 L599.1,387.9 L599.1,387.0 L602.4,387.0 L602.4,386.6 L605.7,386.6 L605.7,387.6 L609.0,387.6 L609.0,386.6 L612.3,386.6 L612.3,386.0 L615.6,386.0 L615.6,385.6 L618.9,385.6 L618.9,387.0 L622.2,387.0 L622.2,383.6 L625.5,383.6 L625.5,380.2 L628.8,380.2 L628.8,390.1 L632.0,390.1 L632.0,385.6 L635.3,385.6 L635.3,380.9 L638.6,380.9 L638.6,383.9 L641.9,383.9 L641.9,383.7 L645.3,383.7 L645.3,382.0 L648.6,382.0 L648.6,376.7 L652.0,376.7 L652.0,383.5 L655.3,383.5 L655.3,382.5 L658.7,382.5 L658.7,377.7 L662.0,377.7 L662.0,376.0 L665.4,376.0 L665.4,371.4 L668.7,371.4 L668.7,365.9 L672.1,365.9 L672.1,374.0 L675.4,374.0 L675.4,373.2 L678.8,373.2 L678.8,372.6 L682.1,372.6 L682.1,377.2 L685.5,377.2 L685.5,363.7 L688.9,363.7 L688.9,349.3 L692.2,349.3 L692.2,357.5 L695.6,357.5 L695.6,353.6 L698.9,353.6 L698.9,377.2 L702.3,377.2 L702.3,384.4 L705.6,384.4 L705.6,381.5 L709.0,381.5 L709.0,372.9 L712.3,372.9 L712.3,381.5 L715.7,381.5 L715.7,373.4 L719.0,373.4 L719.0,372.4 L722.4,372.4 L722.4,378.2 L725.8,378.2 L725.8,369.0 L729.1,369.0 L729.1,365.0 L732.5,365.0 L732.5,374.5 L735.8,374.5 L735.8,377.6 L739.2,377.6 L739.2,360.9 L742.5,360.9 L742.5,392.6 L745.9,392.6 L745.9,387.4 L749.2,387.4 L749.2,385.4 L752.6,385.4 L752.6,359.6 L753.2,359.6" stroke="#e6c800"/>
<path d="M159.8,481.7 L160.4,481.7 L160.4,481.8 L161.0,481.8 L161.0,482.8 L161.6,482.8 L161.6,481.8 L162.2,481.8 L162.2,483.1 L162.8,483.1 L162.8,484.7 L163.4,484.7 L163.4,483.5 L164.0,483.5 L164.0,481.6 L164.6,481.6 L164.6,482.0 L165.2,482.0 L165.2,483.3 L165.8,483.3 L165.8,482.0 L166.4,482.0 L166.4,481.9 L167.0,481.9 L167.0,481.7 L167.6,481.7 L167.6,482.3 L168.2,482.3 L168.2,483.6 L168.8,483.6 L168.8,482.8 L169.4,482.8 L169.4,482.4 L170.0,482.4 L170.0,480.4 L170.6,480.4 L170.6,480.8 L171.2,480.8 L171.2,482.6 L171.8,482.6 L171.8,483.8 L172.4,483.8 L172.4,482.9 L173.0,482.9 L173.6,482.9 L173.6,483.1 L174.2,483.1 L174.2,480.0 L174.8,480.0 L174.8,480.2 L175.4,480.2 L175.4,480.6 L176.0,480.6 L176.0,482.4 L176.6,482.4 L176.6,481.4 L177.2,481.4 L177.2,483.7 L177.8,483.7 L177.8,483.5 L178.4,483.5 L178.4,481.8 L179.0,481.8 L179.0,483.0 L179.6,483.0 L179.6,485.8 L180.2,485.8 L180.2,484.3 L180.8,484.3 L180.8,480.5 L181.4,480.5 L181.4,478.5 L182.0,478.5 L182.0,480.0 L182.6,480.0 L182.6,481.5 L183.2,481.5 L183.8,481.5 L183.8,482.8 L184.4,482.8 L184.4,482.3 L185.0,482.3 L185.0,483.4 L185.6,483.4 L185.6,482.5 L186.2,482.5 L186.2,481.5 L186.8,481.5 L186.8,480.8 L187.4,480.8 L187.4,481.1 L188.0,481.1 L188.0,480.2 L188.6,480.2 L188.6,480.8 L189.2,480.8 L189.2,479.8 L189.8,479.8 L189.8,479.7 L190.4,479.7 L190.4,480.9 L191.0,480.9 L191.0,479.1 L191.6,479.1 L191.6,479.5 L192.2,479.5 L192.2,481.4 L192.8,481.4 L192.8,481.9 L193.4,481.9 L193.4,482.8 L194.0,482.8 L194.0,480.9 L194.6,480.9 L194.6,480.1 L195.2,480.1 L195.2,479.3 L195.8,479.3 L195.8,477.5 L196.4,477.5 L196.4,479.4 L197.0,479.4 L197.0,481.1 L197.6,481.1 L197.6,481.7 L198.2,481.7 L198.2,481.3 L198.8,481.3 L198.8,481.4 L199.4,481.4 L199.4,479.9 L200.0,479.9 L200.0,481.0 L200.6,481.0 L200.6,479.9 L201.2,479.9 L201.2,477.4 L201.5,477.4 L201.5,478.1 L202.6,478.1 L202.6,479.9 L203.7,479.9 L203.7,479.6 L204.7,479.6 L204.7,480.0 L205.8,480.0 L205.8,479.9 L206.9,479.9 L206.9,480.3 L208.0,480.3 L208.0,480.7 L209.1,480.7 L209.1,479.9 L210.1,479.9 L210.1,479.5 L211.2,479.5 L211.2,480.2 L212.3,480.2 L212.3,480.8 L213.4,480.8 L213.4,480.9 L214.5,480.9 L214.5,481.4 L215.5,481.4 L215.5,480.8 L216.6,480.8 L216.6,480.0 L217.7,480.0 L217.7,478.7 L218.8,478.7 L218.8,479.7 L219.9,479.7 L219.9,480.3 L220.9,480.3 L220.9,479.1 L222.0,479.1 L223.1,479.1 L224.2,479.1 L224.2,478.9 L225.3,478.9 L226.3,478.9 L227.4,478.9 L227.4,478.2 L228.5,478.2 L228.5,478.3 L229.6,478.3 L229.6,478.8 L230.7,478.8 L230.7,478.9 L231.7,478.9 L232.8,478.9 L232.8,478.2 L233.9,478.2 L233.9,477.5 L235.0,477.5 L235.0,477.4 L236.1,477.4 L236.1,477.5 L237.1,477.5 L237.1,477.4 L238.2,477.4 L238.2,476.8 L239.3,476.8 L239.3,477.4 L240.4,477.4 L240.4,477.6 L241.5,477.6 L242.5,477.6 L242.5,477.4 L243.6,477.4 L243.6,476.9 L244.7,476.9 L244.7,475.8 L245.8,475.8 L245.8,476.6 L246.9,476.6 L246.9,477.9 L247.9,477.9 L247.9,477.7 L249.0,477.7 L249.0,477.4 L250.1,477.4 L250.1,476.0 L251.2,476.0 L251.2,475.4 L252.3,475.4 L252.3,475.2 L253.3,475.2 L253.3,472.1 L254.4,472.1 L254.4,471.4 L255.5,471.4 L255.5,473.7 L256.6,473.7 L256.6,474.6 L257.7,474.6 L257.7,475.9 L258.7,475.9 L258.7,476.3 L259.8,476.3 L259.8,475.3 L260.9,475.3 L260.9,474.8 L262.0,474.8 L262.0,474.6 L263.1,474.6 L264.1,474.6 L264.1,475.7 L265.2,475.7 L265.2,476.1 L266.3,476.1 L266.3,474.8 L267.4,474.8 L267.4,475.1 L268.5,475.1 L268.5,475.7 L269.5,475.7 L269.5,475.3 L270.6,475.3 L270.6,474.0 L271.7,474.0 L272.8,474.0 L272.8,473.9 L273.9,473.9 L273.9,473.8 L274.9,473.8 L274.9,474.6 L276.0,474.6 L276.0,475.1 L277.1,475.1 L277.1,475.0 L278.2,475.0 L278.2,474.8 L279.3,474.8 L279.3,474.4 L280.3,474.4 L281.4,474.4 L281.4,474.0 L282.5,474.0 L282.5,473.9 L283.6,473.9 L283.6,473.5 L284.7,473.5 L284.7,472.8 L285.7,472.8 L285.7,472.0 L286.8,472.0 L286.8,472.1 L287.9,472.1 L287.9,472.9 L289.0,472.9 L289.0,473.3 L290.1,473.3 L290.1,473.4 L291.1,473.4 L291.1,472.5 L292.2,472.5 L292.2,472.2 L293.3,472.2 L293.3,472.6 L294.4,472.6 L294.4,471.1 L295.6,471.1 L295.6,470.9 L297.1,470.9 L297.1,472.8 L298.0,472.8 L298.0,473.8 L298.9,473.8 L298.9,474.2 L299.8,474.2 L299.8,474.0 L300.9,474.0 L300.9,474.8 L302.0,474.8 L302.0,474.6 L303.1,474.6 L303.1,474.1 L304.1,474.1 L305.2,474.1 L305.2,473.8 L306.3,473.8 L306.3,474.1 L307.4,474.1 L307.4,473.7 L308.5,473.7 L308.5,473.8 L309.5,473.8 L309.5,473.0 L310.6,473.0 L310.6,471.7 L311.7,471.7 L311.7,470.6 L312.8,470.6 L313.9,470.6 L314.9,470.6 L314.9,470.8 L316.0,470.8 L316.0,470.1 L317.1,470.1 L317.1,470.9 L318.2,470.9 L318.2,471.4 L319.3,471.4 L319.3,471.5 L320.3,471.5 L320.3,470.4 L321.6,470.4 L321.6,469.9 L323.2,469.9 L323.2,470.1 L324.8,470.1 L324.8,470.0 L326.4,470.0 L326.4,469.7 L328.0,469.7 L328.0,469.4 L329.6,469.4 L329.6,469.3 L331.2,469.3 L331.2,468.6 L332.8,468.6 L332.8,467.4 L334.4,467.4 L336.0,467.4 L336.0,466.5 L337.6,466.5 L337.6,465.2 L339.2,465.2 L339.2,464.5 L340.8,464.5 L340.8,464.4 L342.4,464.4 L342.4,464.1 L344.0,464.1 L344.0,463.5 L345.6,463.5 L345.6,463.0 L347.2,463.0 L347.2,462.3 L348.8,462.3 L348.8,462.2 L350.4,462.2 L350.4,462.0 L352.0,462.0 L352.0,461.4 L353.6,461.4 L353.6,460.3 L355.2,460.3 L355.2,459.1 L356.8,459.1 L356.8,458.3 L358.4,458.3 L360.0,458.3 L360.0,458.1 L361.6,458.1 L361.6,457.0 L363.2,457.0 L363.2,455.4 L364.8,455.4 L364.8,455.0 L366.4,455.0 L366.4,454.0 L368.0,454.0 L368.0,453.1 L369.6,453.1 L369.6,453.2 L371.2,453.2 L371.2,453.0 L372.8,453.0 L372.8,452.6 L374.4,452.6 L374.4,452.2 L376.0,452.2 L376.0,451.1 L377.6,451.1 L377.6,450.7 L379.2,450.7 L379.2,450.8 L380.8,450.8 L380.8,449.9 L382.4,449.9 L382.4,449.5 L384.0,449.5 L384.0,449.3 L385.6,449.3 L385.6,449.2 L387.2,449.2 L387.2,449.4 L388.8,449.4 L388.8,449.5 L390.4,449.5 L392.0,449.5 L392.0,448.7 L393.6,448.7 L395.2,448.7 L395.2,449.7 L396.8,449.7 L396.8,448.1 L398.4,448.1 L398.4,433.1 L400.0,433.1 L400.0,419.8 L401.6,419.8 L401.6,438.7 L403.2,438.7 L403.2,442.9 L404.8,442.9 L404.8,443.5 L406.4,443.5 L406.4,445.6 L408.0,445.6 L408.0,446.6 L409.6,446.6 L409.6,446.2 L411.2,446.2 L411.2,445.8 L412.8,445.8 L412.8,445.6 L414.4,445.6 L414.4,444.1 L416.0,444.1 L417.6,444.1 L417.6,444.9 L419.2,444.9 L419.2,445.0 L420.8,445.0 L420.8,443.9 L422.4,443.9 L424.0,443.9 L424.0,445.8 L425.6,445.8 L425.6,445.0 L427.2,445.0 L427.2,444.7 L428.3,444.7 L428.3,444.3 L431.6,444.3 L431.6,445.2 L435.0,445.2 L435.0,443.5 L438.3,443.5 L438.3,443.7 L441.6,443.7 L441.6,444.9 L445.0,444.9 L445.0,444.6 L448.3,444.6 L448.3,444.2 L451.6,444.2 L454.9,444.2 L454.9,444.9 L458.3,444.9 L458.3,440.8 L461.6,440.8 L464.9,440.8 L464.9,444.7 L468.3,444.7 L468.3,443.4 L471.6,443.4 L471.6,442.4 L474.9,442.4 L474.9,441.3 L478.2,441.3 L481.6,441.3 L481.6,441.0 L484.9,441.0 L484.9,441.2 L488.2,441.2 L488.2,440.8 L491.5,440.8 L491.5,441.0 L494.9,441.0 L494.9,441.1 L498.2,441.1 L498.2,440.2 L501.5,440.2 L501.5,440.3 L504.9,440.3 L504.9,440.0 L508.2,440.0 L508.2,440.2 L511.5,440.2 L511.5,439.4 L514.8,439.4 L514.8,437.5 L518.2,437.5 L521.5,437.5 L521.5,427.1 L524.8,427.1 L524.8,382.8 L528.1,382.8 L528.1,351.1 L531.3,351.1 L531.3,376.9 L534.6,376.9 L534.6,352.2 L537.8,352.2 L537.8,377.6 L541.0,377.6 L541.0,430.3 L544.5,430.3 L544.5,438.5 L548.0,438.5 L548.0,438.9 L551.5,438.9 L554.9,438.9 L554.9,439.0 L558.4,439.0 L558.4,438.9 L561.9,438.9 L565.4,438.9 L565.4,440.0 L568.8,440.0 L572.3,440.0 L572.3,438.5 L575.8,438.5 L579.2,438.5 L579.2,438.6 L582.6,438.6 L582.6,438.5 L585.9,438.5 L589.2,438.5 L589.2,437.8 L592.5,437.8 L592.5,438.1 L595.8,438.1 L595.8,438.5 L599.1,438.5 L599.1,437.8 L602.4,437.8 L602.4,437.5 L605.7,437.5 L605.7,438.2 L609.0,438.2 L612.3,438.2 L612.3,436.5 L615.6,436.5 L615.6,435.8 L618.9,435.8 L618.9,436.7 L622.2,436.7 L622.2,435.8 L625.5,435.8 L628.8,435.8 L628.8,440.1 L632.0,440.1 L632.0,436.1 L635.3,436.1 L635.3,435.8 L638.6,435.8 L638.6,435.3 L641.9,435.3 L641.9,434.4 L645.3,434.4 L645.3,437.8 L648.6,437.8 L648.6,434.5 L652.0,434.5 L652.0,431.9 L655.3,431.9 L655.3,430.1 L658.7,430.1 L658.7,397.3 L662.0,397.3 L662.0,335.5 L665.4,335.5 L665.4,375.1 L668.7,375.1 L668.7,421.9 L672.1,421.9 L672.1,420.8 L675.4,420.8 L675.4,421.9 L678.8,421.9 L678.8,412.4 L682.1,412.4 L682.1,303.6 L685.5,303.6 L685.5,19.3 L688.9,19.3 L688.9,79.1 L692.2,79.1 L692.2,360.3 L695.6,360.3 L695.6,373.4 L698.9,373.4 L698.9,362.7 L702.3,362.7 L702.3,405.4 L705.6,405.4 L705.6,429.1 L709.0,429.1 L709.0,423.9 L712.3,423.9 L712.3,425.1 L715.7,425.1 L715.7,428.2 L719.0,428.2 L719.0,430.1 L722.4,430.1 L725.8,430.1 L725.8,420.8 L729.1,420.8 L729.1,427.0 L732.5,427.0 L732.5,421.4 L735.8,421.4 L735.8,439.4 L739.2,439.4 L739.2,428.6 L742.5,428.6 L742.5,435.8 L745.9,435.8 L745.9,428.6 L749.2,428.6 L749.2,431.0 L752.6,431.0 L752.6,420.2 L753.2,420.2" stroke="#0a00be"/>
<path d="M159.8,480.7 L160.4,480.7 L160.4,480.1 L161.0,480.1 L161.0,477.0 L161.6,477.0 L161.6,480.2 L162.2,480.2 L162.2,480.4 L162.8,480.4 L162.8,478.9 L163.4,478.9 L163.4,482.7 L164.0,482.7 L164.0,483.3 L164.6,483.3 L164.6,481.9 L165.2,481.9 L165.2,483.0 L165.8,483.0 L165.8,484.4 L166.4,484.4 L166.4,483.2 L167.0,483.2 L167.0,482.2 L167.6,482.2 L167.6,482.0 L168.2,482.0 L168.2,485.2 L168.8,485.2 L168.8,483.6 L169.4,483.6 L169.4,478.7 L170.0,478.7 L170.0,478.4 L170.6,478.4 L170.6,483.1 L171.2,483.1 L171.2,482.4 L171.8,482.4 L171.8,484.0 L172.4,484.0 L172.4,485.0 L173.0,485.0 L173.0,484.6 L173.6,484.6 L173.6,482.7 L174.2,482.7 L174.2,479.7 L174.8,479.7 L175.4,479.7 L175.4,481.5 L176.0,481.5 L176.0,482.5 L176.6,482.5 L176.6,482.1 L177.2,482.1 L177.2,481.4 L177.8,481.4 L177.8,480.6 L178.4,480.6 L178.4,482.3 L179.0,482.3 L179.0,482.1 L179.6,482.1 L179.6,481.8 L180.2,481.8 L180.2,481.5 L180.8,481.5 L180.8,480.9 L181.4,480.9 L181.4,479.9 L182.0,479.9 L182.0,478.7 L182.6,478.7 L182.6,479.5 L183.2,479.5 L183.2,478.5 L183.8,478.5 L183.8,481.1 L184.4,481.1 L184.4,482.3 L185.0,482.3 L185.0,481.1 L185.6,481.1 L185.6,480.2 L186.2,480.2 L186.2,479.4 L186.8,479.4 L186.8,477.5 L187.4,477.5 L188.0,477.5 L188.0,479.4 L188.6,479.4 L188.6,481.3 L189.2,481.3 L189.2,480.1 L189.8,480.1 L189.8,477.0 L190.4,477.0 L190.4,478.3 L191.0,478.3 L191.0,481.2 L191.6,481.2 L191.6,480.8 L192.2,480.8 L192.2,480.6 L192.8,480.6 L192.8,479.3 L193.4,479.3 L193.4,479.1 L194.0,479.1 L194.0,477.3 L194.6,477.3 L194.6,478.5 L195.2,478.5 L195.2,480.2 L195.8,480.2 L195.8,480.5 L196.4,480.5 L196.4,479.4 L197.0,479.4 L197.0,480.6 L197.6,480.6 L197.6,481.3 L198.2,481.3 L198.2,479.9 L198.8,479.9 L198.8,479.4 L199.4,479.4 L199.4,478.6 L200.0,478.6 L200.0,481.0 L200.6,481.0 L200.6,483.6 L201.2,483.6 L201.2,481.2 L201.5,481.2 L201.5,481.4 L202.6,481.4 L202.6,478.7 L203.7,478.7 L203.7,478.1 L204.7,478.1 L204.7,480.0 L205.8,480.0 L205.8,481.2 L206.9,481.2 L206.9,480.9 L208.0,480.9 L208.0,479.3 L209.1,479.3 L209.1,479.6 L210.1,479.6 L210.1,480.0 L211.2,480.0 L211.2,479.0 L212.3,479.0 L212.3,477.3 L213.4,477.3 L213.4,477.8 L214.5,477.8 L215.5,477.8 L215.5,477.4 L216.6,477.4 L216.6,477.1 L217.7,477.1 L217.7,477.3 L218.8,477.3 L218.8,478.4 L219.9,478.4 L219.9,478.5 L220.9,478.5 L222.0,478.5 L222.0,477.9 L223.1,477.9 L223.1,476.6 L224.2,476.6 L224.2,477.1 L225.3,477.1 L225.3,477.2 L226.3,477.2 L226.3,477.3 L227.4,477.3 L227.4,476.7 L228.5,476.7 L228.5,475.6 L229.6,475.6 L229.6,475.9 L230.7,475.9 L230.7,475.7 L231.7,475.7 L231.7,474.6 L232.8,474.6 L232.8,474.0 L233.9,474.0 L233.9,473.6 L235.0,473.6 L235.0,474.3 L236.1,474.3 L236.1,475.0 L237.1,475.0 L237.1,473.2 L238.2,473.2 L238.2,472.0 L239.3,472.0 L239.3,471.7 L240.4,471.7 L241.5,471.7 L241.5,470.1 L242.5,470.1 L242.5,471.2 L243.6,471.2 L243.6,470.4 L244.7,470.4 L244.7,470.1 L245.8,470.1 L245.8,470.2 L246.9,470.2 L246.9,469.4 L247.9,469.4 L247.9,470.3 L249.0,470.3 L249.0,471.7 L250.1,471.7 L250.1,470.6 L251.2,470.6 L251.2,468.2 L252.3,468.2 L252.3,467.1 L253.3,467.1 L253.3,469.1 L254.4,469.1 L254.4,468.3 L255.5,468.3 L255.5,466.7 L256.6,466.7 L256.6,467.0 L257.7,467.0 L257.7,468.1 L258.7,468.1 L258.7,469.2 L259.8,469.2 L260.9,469.2 L260.9,468.1 L262.0,468.1 L262.0,467.9 L263.1,467.9 L263.1,468.9 L264.1,468.9 L264.1,468.1 L265.2,468.1 L265.2,466.2 L266.3,466.2 L266.3,466.0 L267.4,466.0 L267.4,466.1 L268.5,466.1 L268.5,465.8 L269.5,465.8 L269.5,465.2 L270.6,465.2 L270.6,463.6 L271.7,463.6 L271.7,462.3 L272.8,462.3 L272.8,462.1 L273.9,462.1 L273.9,463.0 L274.9,463.0 L274.9,463.1 L276.0,463.1 L276.0,462.4 L277.1,462.4 L277.1,462.0 L278.2,462.0 L278.2,462.1 L279.3,462.1 L279.3,462.9 L280.3,462.9 L280.3,464.7 L281.4,464.7 L281.4,465.2 L282.5,465.2 L282.5,463.5 L283.6,463.5 L283.6,463.3 L284.7,463.3 L284.7,463.6 L285.7,463.6 L285.7,464.2 L286.8,464.2 L286.8,463.8 L287.9,463.8 L287.9,461.7 L289.0,461.7 L289.0,461.9 L290.1,461.9 L290.1,462.8 L291.1,462.8 L291.1,461.9 L292.2,461.9 L292.2,461.2 L293.3,461.2 L293.3,460.4 L294.4,460.4 L294.4,459.4 L295.6,459.4 L295.6,460.9 L297.1,460.9 L297.1,462.0 L298.0,462.0 L298.0,461.3 L298.9,461.3 L298.9,461.0 L299.8,461.0 L299.8,460.1 L300.9,460.1 L300.9,459.8 L302.0,459.8 L302.0,459.9 L303.1,459.9 L303.1,460.1 L304.1,460.1 L304.1,459.4 L305.2,459.4 L305.2,459.3 L306.3,459.3 L306.3,458.5 L307.4,458.5 L307.4,458.8 L308.5,458.8 L309.5,458.8 L309.5,457.7 L310.6,457.7 L310.6,457.2 L311.7,457.2 L311.7,455.7 L312.8,455.7 L312.8,455.6 L313.9,455.6 L314.9,455.6 L314.9,455.5 L316.0,455.5 L316.0,456.1 L317.1,456.1 L317.1,456.6 L318.2,456.6 L318.2,454.5 L319.3,454.5 L319.3,454.3 L320.3,454.3 L320.3,453.2 L321.6,453.2 L321.6,452.7 L323.2,452.7 L323.2,451.5 L324.8,451.5 L324.8,450.4 L326.4,450.4 L326.4,449.5 L328.0,449.5 L328.0,447.7 L329.6,447.7 L329.6,445.1 L331.2,445.1 L331.2,443.7 L332.8,443.7 L332.8,442.3 L334.4,442.3 L334.4,439.7 L336.0,439.7 L336.0,436.6 L337.6,436.6 L337.6,433.0 L339.2,433.0 L339.2,430.1 L340.8,430.1 L340.8,427.9 L342.4,427.9 L342.4,425.4 L344.0,425.4 L344.0,421.5 L345.6,421.5 L345.6,418.5 L347.2,418.5 L347.2,415.0 L348.8,415.0 L348.8,410.7 L350.4,410.7 L350.4,407.2 L352.0,407.2 L352.0,405.1 L353.6,405.1 L353.6,403.5 L355.2,403.5 L355.2,401.0 L356.8,401.0 L356.8,396.8 L358.4,396.8 L358.4,391.4 L360.0,391.4 L360.0,386.5 L361.6,386.5 L361.6,381.7 L363.2,381.7 L363.2,377.8 L364.8,377.8 L364.8,373.4 L366.4,373.4 L366.4,368.8 L368.0,368.8 L368.0,367.9 L369.6,367.9 L369.6,366.1 L371.2,366.1 L371.2,362.8 L372.8,362.8 L372.8,359.4 L374.4,359.4 L374.4,357.2 L376.0,357.2 L376.0,355.0 L377.6,355.0 L377.6,352.3 L379.2,352.3 L379.2,348.9 L380.8,348.9 L380.8,348.0 L382.4,348.0 L382.4,346.7 L384.0,346.7 L384.0,344.4 L385.6,344.4 L385.6,342.7 L387.2,342.7 L387.2,340.2 L388.8,340.2 L388.8,337.8 L390.4,337.8 L390.4,337.2 L392.0,337.2 L392.0,336.1 L393.6,336.1 L393.6,334.8 L395.2,334.8 L395.2,333.2 L396.8,333.2 L396.8,331.1 L398.4,331.1 L398.4,329.9 L400.0,329.9 L400.0,329.5 L401.6,329.5 L401.6,328.9 L403.2,328.9 L403.2,327.4 L404.8,327.4 L404.8,325.8 L406.4,325.8 L406.4,325.3 L408.0,325.3 L408.0,325.2 L409.6,325.2 L409.6,324.8 L411.2,324.8 L411.2,323.0 L412.8,323.0 L412.8,323.1 L414.4,323.1 L414.4,321.3 L416.0,321.3 L416.0,318.5 L417.6,318.5 L417.6,316.0 L419.2,316.0 L419.2,314.1 L420.8,314.1 L420.8,313.0 L422.4,313.0 L422.4,312.3 L424.0,312.3 L424.0,311.9 L425.6,311.9 L425.6,311.7 L427.2,311.7 L427.2,310.4 L428.3,310.4 L428.3,308.3 L431.6,308.3 L435.0,308.3 L435.0,312.7 L438.3,312.7 L438.3,310.8 L441.6,310.8 L441.6,305.9 L445.0,305.9 L445.0,296.6 L448.3,296.6 L448.3,299.1 L451.6,299.1 L451.6,303.5 L454.9,303.5 L454.9,297.8 L458.3,297.8 L458.3,289.8 L461.6,289.8 L461.6,296.6 L464.9,296.6 L468.3,296.6 L468.3,285.8 L471.6,285.8 L474.9,285.8 L474.9,288.6 L478.2,288.6 L481.6,288.6 L481.6,280.8 L484.9,280.8 L488.2,280.8 L488.2,284.2 L491.5,284.2 L491.5,282.1 L494.9,282.1 L494.9,280.2 L498.2,280.2 L498.2,278.4 L501.5,278.4 L504.9,278.4 L504.9,279.4 L508.2,279.4 L508.2,275.6 L511.5,275.6 L511.5,272.5 L514.8,272.5 L514.8,270.0 L518.2,270.0 L518.2,272.5 L521.5,272.5 L521.5,270.0 L524.8,270.0 L524.8,265.1 L528.1,265.1 L528.1,255.2 L531.3,255.2 L534.6,255.2 L534.6,262.6 L537.8,262.6 L537.8,268.2 L541.0,268.2 L541.0,262.0 L544.5,262.0 L544.5,263.5 L548.0,263.5 L548.0,265.4 L551.5,265.4 L554.9,265.4 L558.4,265.4 L561.9,265.4 L561.9,266.9 L565.4,266.9 L565.4,265.5 L568.8,265.5 L568.8,265.1 L572.3,265.1 L572.3,261.4 L575.8,261.4 L579.2,261.4 L579.2,265.7 L582.6,265.7 L582.6,259.7 L585.9,259.7 L585.9,263.6 L589.2,263.6 L589.2,262.0 L592.5,262.0 L592.5,262.6 L595.8,262.6 L595.8,263.2 L599.1,263.2 L599.1,265.5 L602.4,265.5 L602.4,263.6 L605.7,263.6 L609.0,263.6 L609.0,265.7 L612.3,265.7 L612.3,268.0 L615.6,268.0 L615.6,264.6 L618.9,264.6 L618.9,267.2 L622.2,267.2 L622.2,265.7 L625.5,265.7 L625.5,261.7 L628.8,261.7 L628.8,270.5 L632.0,270.5 L632.0,268.7 L635.3,268.7 L635.3,265.7 L638.6,265.7 L641.9,265.7 L641.9,269.6 L645.3,269.6 L645.3,271.9 L648.6,271.9 L648.6,266.3 L652.0,266.3 L652.0,269.6 L655.3,269.6 L655.3,275.0 L658.7,275.0 L658.7,273.1 L662.0,273.1 L662.0,269.1 L665.4,269.1 L665.4,271.3 L668.7,271.3 L668.7,266.9 L672.1,266.9 L672.1,278.7 L675.4,278.7 L675.4,276.8 L678.8,276.8 L678.8,278.7 L682.1,278.7 L682.1,273.7 L685.5,273.7 L685.5,274.7 L688.9,274.7 L692.2,274.7 L692.2,277.4 L695.6,277.4 L695.6,265.7 L698.9,265.7 L698.9,271.3 L702.3,271.3 L702.3,281.8 L705.6,281.8 L705.6,276.3 L709.0,276.3 L709.0,276.8 L712.3,276.8 L712.3,262.0 L715.7,262.0 L715.7,277.4 L719.0,277.4 L719.0,289.8 L722.4,289.8 L722.4,309.9 L725.8,309.9 L725.8,293.6 L729.1,293.6 L729.1,287.9 L732.5,287.9 L732.5,292.3 L735.8,292.3 L735.8,287.9 L739.2,287.9 L739.2,274.4 L742.5,274.4 L742.5,305.1 L745.9,305.1 L745.9,289.3 L749.2,289.3 L749.2,311.9 L752.6,311.9 L752.6,321.0 L753.2,321.0" stroke="#e87800"/>
</g>
<path d="M155.50,494.4v-9.0M155.50,49.3v9.0M173.44,494.4v-4.5M173.44,49.3v4.5M191.39,494.4v-4.5M191.39,49.3v4.5M209.33,494.4v-4.5M209.33,49.3v4.5M227.28,494.4v-4.5M227.28,49.3v4.5M245.22,494.4v-9.0M245.22,49.3v9.0M263.16,494.4v-4.5M263.16,49.3v4.5M281.11,494.4v-4.5M281.11,49.3v4.5M299.05,494.4v-4.5M299.05,49.3v4.5M317.00,494.4v-4.5M317.00,49.3v4.5M334.94,494.4v-9.0M334.94,49.3v9.0M352.88,494.4v-4.5M352.88,49.3v4.5M370.83,494.4v-4.5M370.83,49.3v4.5M388.77,494.4v-4.5M388.77,49.3v4.5M406.72,494.4v-4.5M406.72,49.3v4.5M424.66,494.4v-9.0M424.66,49.3v9.0M442.60,494.4v-4.5M442.60,49.3v4.5M460.55,494.4v-4.5M460.55,49.3v4.5M478.49,494.4v-4.5M478.49,49.3v4.5M496.44,494.4v-4.5M496.44,49.3v4.5M514.38,494.4v-9.0M514.38,49.3v9.0M532.32,494.4v-4.5M532.32,49.3v4.5M550.27,494.4v-4.5M550.27,49.3v4.5M568.21,494.4v-4.5M568.21,49.3v4.5M586.16,494.4v-4.5M586.16,49.3v4.5M604.10,494.4v-9.0M604.10,49.3v9.0M622.04,494.4v-4.5M622.04,49.3v4.5M639.99,494.4v-4.5M639.99,49.3v4.5M657.93,494.4v-4.5M657.93,49.3v4.5M675.88,494.4v-4.5M675.88,49.3v4.5M693.82,494.4v-9.0M693.82,49.3v9.0M711.76,494.4v-4.5M711.76,49.3v4.5M729.71,494.4v-4.5M729.71,49.3v4.5M747.65,494.4v-4.5M747.65,49.3v4.5M765.60,494.4v-4.5M765.60,49.3v4.5M783.54,494.4v-9.0M783.54,49.3v9.0M155.5,482.00h12.5M783.5,482.00h-12.5M155.5,451.10h6.3M783.5,451.10h-6.3M155.5,420.20h6.3M783.5,420.20h-6.3M155.5,389.30h6.3M783.5,389.30h-6.3M155.5,358.40h12.5M783.5,358.40h-12.5M155.5,327.50h6.3M783.5,327.50h-6.3M155.5,296.60h6.3M783.5,296.60h-6.3M155.5,265.70h6.3M783.5,265.70h-6.3M155.5,234.80h12.5M783.5,234.80h-12.5M155.5,203.90h6.3M783.5,203.90h-6.3M155.5,173.00h6.3M783.5,173.00h-6.3M155.5,142.10h6.3M783.5,142.10h-6.3M155.5,111.20h12.5M783.5,111.20h-12.5M155.5,80.30h6.3M783.5,80.30h-6.3" stroke="#0a00be" stroke-width="1.2" fill="none"/>
<rect x="155.5" y="49.3" width="628.0" height="445.1" fill="none" stroke="#0a00be" stroke-width="1.25" stroke-linejoin="round"/>
<text transform="matrix(1.0448 0 0 1.0142 146.66 531.73)" style="font-family:'Liberation Sans'" font-size="27.0" fill="#0a00be">5</text>
<text transform="matrix(0.7878 0 0 1.0290 231.00 532.00)" style="font-family:'Liberation Sans'" font-size="27.0" fill="#0a00be">1</text><text transform="matrix(1.0394 0 0 0.9999 243.61 531.73)" style="font-family:'Liberation Sans'" font-size="27.0" fill="#0a00be">0</text>
<text transform="matrix(0.7878 0 0 1.0290 321.10 532.00)" style="font-family:'Liberation Sans'" font-size="27.0" fill="#0a00be">1</text><text transform="matrix(1.0448 0 0 1.0142 333.70 531.73)" style="font-family:'Liberation Sans'" font-size="27.0" fill="#0a00be">5</text>
<text transform="matrix(1.0908 0 0 1.0142 407.21 532.00)" style="font-family:'Liberation Sans'" font-size="27.0" fill="#0a00be">2</text><text transform="matrix(1.0394 0 0 0.9999 424.09 531.73)" style="font-family:'Liberation Sans'" font-size="27.0" fill="#0a00be">0</text>
<text transform="matrix(1.0908 0 0 1.0142 496.93 532.00)" style="font-family:'Liberation Sans'" font-size="27.0" fill="#0a00be">2</text><text transform="matrix(1.0448 0 0 1.0142 513.80 531.73)" style="font-family:'Liberation Sans'" font-size="27.0" fill="#0a00be">5</text>
<text transform="matrix(1.0448 0 0 0.9999 587.06 531.73)" style="font-family:'Liberation Sans'" font-size="27.0" fill="#0a00be">3</text><text transform="matrix(1.0394 0 0 0.9999 603.53 531.73)" style="font-family:'Liberation Sans'" font-size="27.0" fill="#0a00be">0</text>
<text transform="matrix(1.0448 0 0 0.9999 676.78 531.73)" style="font-family:'Liberation Sans'" font-size="27.0" fill="#0a00be">3</text><text transform="matrix(1.0448 0 0 1.0142 693.24 531.73)" style="font-family:'Liberation Sans'" font-size="27.0" fill="#0a00be">5</text>
<text transform="matrix(0.9828 0 0 1.0290 766.96 532.00)" style="font-family:'Liberation Sans'" font-size="27.0" fill="#0a00be">4</text><text transform="matrix(1.0394 0 0 0.9999 782.97 531.73)" style="font-family:'Liberation Sans'" font-size="27.0" fill="#0a00be">0</text>
<text transform="matrix(1.0394 0 0 0.9789 130.68 492.44)" style="font-family:'Liberation Sans'" font-size="27.0" fill="#0a00be">0</text>
<text transform="matrix(1.0908 0 0 0.9930 97.27 369.10)" style="font-family:'Liberation Sans'" font-size="27.0" fill="#0a00be">2</text><text transform="matrix(1.0394 0 0 0.9789 114.15 368.84)" style="font-family:'Liberation Sans'" font-size="27.0" fill="#0a00be">0</text><text transform="matrix(1.0394 0 0 0.9789 130.68 368.84)" style="font-family:'Liberation Sans'" font-size="27.0" fill="#0a00be">0</text>
<text transform="matrix(0.9828 0 0 1.0074 98.14 245.50)" style="font-family:'Liberation Sans'" font-size="27.0" fill="#0a00be">4</text><text transform="matrix(1.0394 0 0 0.9789 114.15 245.24)" style="font-family:'Liberation Sans'" font-size="27.0" fill="#0a00be">0</text><text transform="matrix(1.0394 0 0 0.9789 130.68 245.24)" style="font-family:'Liberation Sans'" font-size="27.0" fill="#0a00be">0</text>
<text transform="matrix(1.0731 0 0 0.9789 97.29 121.64)" style="font-family:'Liberation Sans'" font-size="27.0" fill="#0a00be">6</text><text transform="matrix(1.0394 0 0 0.9789 114.15 121.64)" style="font-family:'Liberation Sans'" font-size="27.0" fill="#0a00be">0</text><text transform="matrix(1.0394 0 0 0.9789 130.68 121.64)" style="font-family:'Liberation Sans'" font-size="27.0" fill="#0a00be">0</text>
<text transform="matrix(0.7388 0 0 1.0000 351.30 563.30)" style="font-family:'Liberation Serif'" font-size="27.0" fill="#0a00be" stroke="#0a00be" stroke-width="0.36">W</text>
<text transform="matrix(1.1533 0 0 1.0000 370.81 563.30)" style="font-family:'Liberation Serif'" font-size="27.0" fill="#0a00be" stroke="#0a00be" stroke-width="0.36">a</text>
<text transform="matrix(1.0074 0 0 1.0000 385.40 563.30)" style="font-family:'Liberation Serif'" font-size="27.0" fill="#0a00be" stroke="#0a00be" stroke-width="0.36">v</text>
<text transform="matrix(1.0911 0 0 1.0000 401.02 563.30)" style="font-family:'Liberation Serif'" font-size="27.0" fill="#0a00be" stroke="#0a00be" stroke-width="0.36">e</text>
<text transform="matrix(1.1696 0 0 1.0000 415.17 563.30)" style="font-family:'Liberation Serif'" font-size="27.0" fill="#0a00be" stroke="#0a00be" stroke-width="0.36">l</text>
<text transform="matrix(1.0911 0 0 1.0000 425.62 563.30)" style="font-family:'Liberation Serif'" font-size="27.0" fill="#0a00be" stroke="#0a00be" stroke-width="0.36">e</text>
<text transform="matrix(1.2573 0 0 1.0000 439.74 563.30)" style="font-family:'Liberation Serif'" font-size="27.0" fill="#0a00be" stroke="#0a00be" stroke-width="0.36">n</text>
<text transform="matrix(1.0582 0 0 1.0000 458.89 563.30)" style="font-family:'Liberation Serif'" font-size="27.0" fill="#0a00be" stroke="#0a00be" stroke-width="0.36">g</text>
<text transform="matrix(1.3263 0 0 1.0000 475.34 563.30)" style="font-family:'Liberation Serif'" font-size="27.0" fill="#0a00be" stroke="#0a00be" stroke-width="0.36">t</text>
<text transform="matrix(1.1557 0 0 1.0000 487.89 563.30)" style="font-family:'Liberation Serif'" font-size="27.0" fill="#0a00be" stroke="#0a00be" stroke-width="0.36">h</text>
<path d="M527.50,542.60Q516.20,555.90 527.50,569.20" stroke="#0a00be" stroke-width="1.55" fill="none" stroke-linecap="round"/>
<text transform="matrix(1.2293 0 0 1.0000 530.50 563.30)" style="font-family:'Liberation Serif'" font-style="italic" font-size="27.0" fill="#0a00be" stroke="#0a00be" stroke-width="0.36">μ</text>
<text transform="matrix(1.2919 0 0 1.0000 546.20 563.30)" style="font-family:'Liberation Serif'" font-size="27.0" fill="#0a00be" stroke="#0a00be" stroke-width="0.36">m</text>
<path d="M577.70,542.60Q589.80,555.90 577.70,569.20" stroke="#0a00be" stroke-width="1.55" fill="none" stroke-linecap="round"/>
<g transform="translate(75.7,0) rotate(-90)">
<text transform="matrix(1.1176 0 0 1.0000 -471.84 0.00)" style="font-family:'Liberation Serif'" font-size="27.0" fill="#0a00be" stroke="#0a00be" stroke-width="0.36">S</text>
<text transform="matrix(1.0796 0 0 1.0000 -453.46 0.00)" style="font-family:'Liberation Serif'" font-size="27.0" fill="#0a00be" stroke="#0a00be" stroke-width="0.36">u</text>
<text transform="matrix(1.2993 0 0 1.0000 -437.10 0.00)" style="font-family:'Liberation Serif'" font-size="27.0" fill="#0a00be" stroke="#0a00be" stroke-width="0.36">r</text>
<text transform="matrix(1.0897 0 0 1.0000 -423.08 0.00)" style="font-family:'Liberation Serif'" font-size="27.0" fill="#0a00be" stroke="#0a00be" stroke-width="0.36">f</text>
<text transform="matrix(1.2283 0 0 1.0000 -409.96 0.00)" style="font-family:'Liberation Serif'" font-size="27.0" fill="#0a00be" stroke="#0a00be" stroke-width="0.36">a</text>
<text transform="matrix(1.1457 0 0 1.0000 -394.36 0.00)" style="font-family:'Liberation Serif'" font-size="27.0" fill="#0a00be" stroke="#0a00be" stroke-width="0.36">c</text>
<text transform="matrix(1.2012 0 0 1.0000 -380.20 0.00)" style="font-family:'Liberation Serif'" font-size="27.0" fill="#0a00be" stroke="#0a00be" stroke-width="0.36">e</text>
<text transform="matrix(0.9228 0 0 1.0000 -349.39 0.00)" style="font-family:'Liberation Serif'" font-size="27.0" fill="#0a00be" stroke="#0a00be" stroke-width="0.36">B</text>
<text transform="matrix(1.2022 0 0 1.0000 -330.25 0.00)" style="font-family:'Liberation Serif'" font-size="27.0" fill="#0a00be" stroke="#0a00be" stroke-width="0.36">r</text>
<text transform="matrix(1.0185 0 0 1.0000 -317.05 0.00)" style="font-family:'Liberation Serif'" font-size="27.0" fill="#0a00be" stroke="#0a00be" stroke-width="0.36">i</text>
<text transform="matrix(1.1937 0 0 1.0000 -308.07 0.00)" style="font-family:'Liberation Serif'" font-size="27.0" fill="#0a00be" stroke="#0a00be" stroke-width="0.36">g</text>
<text transform="matrix(1.1557 0 0 1.0000 -289.61 0.00)" style="font-family:'Liberation Serif'" font-size="27.0" fill="#0a00be" stroke="#0a00be" stroke-width="0.36">h</text>
<text transform="matrix(1.1852 0 0 1.0000 -272.12 0.00)" style="font-family:'Liberation Serif'" font-size="27.0" fill="#0a00be" stroke="#0a00be" stroke-width="0.36">t</text>
<text transform="matrix(1.1451 0 0 1.0000 -261.50 0.00)" style="font-family:'Liberation Serif'" font-size="27.0" fill="#0a00be" stroke="#0a00be" stroke-width="0.36">n</text>
<text transform="matrix(1.1411 0 0 1.0000 -244.93 0.00)" style="font-family:'Liberation Serif'" font-size="27.0" fill="#0a00be" stroke="#0a00be" stroke-width="0.36">e</text>
<text transform="matrix(1.2919 0 0 1.0000 -231.00 0.00)" style="font-family:'Liberation Serif'" font-size="27.0" fill="#0a00be" stroke="#0a00be" stroke-width="0.36">s</text>
<text transform="matrix(1.2919 0 0 1.0000 -217.20 0.00)" style="font-family:'Liberation Serif'" font-size="27.0" fill="#0a00be" stroke="#0a00be" stroke-width="0.36">s</text>
<path d="M-180.90,-20.90Q-195.20,-8.00 -180.90,4.90" stroke="#0a00be" stroke-width="1.55" fill="none" stroke-linecap="round"/>
<text transform="matrix(0.7341 0 0 1.0000 -176.95 0.00)" style="font-family:'Liberation Serif'" font-size="27.0" fill="#0a00be" stroke="#0a00be" stroke-width="0.36">M</text>
<text transform="matrix(1.1617 0 0 1.0000 -158.33 0.00)" style="font-family:'Liberation Serif'" font-size="27.0" fill="#0a00be" stroke="#0a00be" stroke-width="0.36">J</text>
<text transform="matrix(1.0080 0 0 1.0000 -146.04 0.00)" style="font-family:'Liberation Serif'" font-size="27.0" fill="#0a00be" stroke="#0a00be" stroke-width="0.36">y</text>
<text transform="matrix(1.1733 0 0 1.0000 -114.07 0.00)" style="font-family:'Liberation Serif'" font-size="27.0" fill="#0a00be" stroke="#0a00be" stroke-width="0.36">s</text>
<text transform="matrix(1.2022 0 0 1.0000 -101.35 0.00)" style="font-family:'Liberation Serif'" font-size="27.0" fill="#0a00be" stroke="#0a00be" stroke-width="0.36">r</text>
<path d="M-85.20,-20.90Q-70.90,-8.00 -85.20,4.90" stroke="#0a00be" stroke-width="1.55" fill="none" stroke-linecap="round"/>
</g>
<path d="M80.9,130.0L54.5,114.2" stroke="#0a00be" stroke-width="1.5" stroke-linecap="round"/>
<text class="sf" x="198.5" y="253.7" font-size="19.4" fill="#0a00be" stroke="#0a00be" stroke-width="0.2" textLength="31.3" lengthAdjust="spacingAndGlyphs">ArII</text>
<text class="sf" x="233.0" y="290.4" font-size="19.4" fill="#0a00be" stroke="#0a00be" stroke-width="0.2" textLength="37.8" lengthAdjust="spacingAndGlyphs">ArIII</text>
<text class="sf" x="261.4" y="253.4" font-size="19.4" fill="#0a00be" stroke="#0a00be" stroke-width="0.2" textLength="27.4" lengthAdjust="spacingAndGlyphs">SIV</text>
<text class="sf" x="303.0" y="215.8" font-size="19.4" fill="#0a00be" stroke="#0a00be" stroke-width="0.2" textLength="34.5" lengthAdjust="spacingAndGlyphs">NeII</text>
<text class="sf" x="352.1" y="178.5" font-size="19.4" fill="#0a00be" stroke="#0a00be" stroke-width="0.2" textLength="40.4" lengthAdjust="spacingAndGlyphs">NeIII</text>
<text class="sf" x="394.3" y="140.6" font-size="19.4" fill="#0a00be" stroke="#0a00be" stroke-width="0.2" textLength="32.4" lengthAdjust="spacingAndGlyphs">FeII</text>
<text class="sf" x="409.0" y="103.5" font-size="19.4" fill="#0a00be" stroke="#0a00be" stroke-width="0.2" textLength="27.6" lengthAdjust="spacingAndGlyphs">SIII</text>
<text class="sf" x="539.7" y="466.1" font-size="19.4" fill="#0a00be" stroke="#0a00be" stroke-width="0.2" textLength="32.5" lengthAdjust="spacingAndGlyphs">FeII</text>
<text class="sf" x="538.0" y="483.0" font-size="19.4" fill="#0a00be" stroke="#0a00be" stroke-width="0.2" textLength="28.3" lengthAdjust="spacingAndGlyphs">OIV</text>
<text class="sf" x="674.0" y="465.5" font-size="19.4" fill="#0a00be" stroke="#0a00be" stroke-width="0.2" textLength="28.7" lengthAdjust="spacingAndGlyphs">SIII</text>
<text class="sf" x="698.0" y="448.4" font-size="19.4" fill="#0a00be" stroke="#0a00be" stroke-width="0.2" textLength="28.5" lengthAdjust="spacingAndGlyphs">SiII</text>
<text class="sf" x="707.8" y="354.9" font-size="19.4" fill="#0a00be" stroke="#0a00be" stroke-width="0.2" textLength="32.6" lengthAdjust="spacingAndGlyphs">FeII</text>
<path d="M196.5,239.6h-3.8V257.2h3.8M232.0,239.6h3.8V257.2h-3.8M231.0,276.3h-3.8V293.9h3.8M273.0,276.3h3.8V293.9h-3.8M259.4,239.3h-3.8V256.9h3.8M291.0,239.3h3.8V256.9h-3.8M301.0,201.8h-3.8V219.3h3.8M339.7,201.8h3.8V219.3h-3.8M350.1,164.4h-3.8V182.0h3.8M394.7,164.4h3.8V182.0h-3.8M392.3,126.5h-3.8V144.1h3.8M428.9,126.5h3.8V144.1h-3.8M407.0,89.5h-3.8V107.0h3.8M438.8,89.5h3.8V107.0h-3.8M537.7,452.1h-3.8V469.6h3.8M574.4,452.1h3.8V469.6h-3.8M536.0,468.9h-3.8V486.5h3.8M568.5,468.9h3.8V486.5h-3.8M672.0,451.4h-3.8V469.0h3.8M704.9,451.4h3.8V469.0h-3.8M696.0,434.3h-3.8V451.9h3.8M728.7,434.3h3.8V451.9h-3.8M705.8,340.8h-3.8V358.4h3.8M742.6,340.8h3.8V358.4h-3.8" stroke="#0a00be" stroke-width="1.25" fill="none" stroke-linejoin="round" stroke-linecap="round"/>
<path d="M368.60,224.50Q358.50,235.25 368.60,246.00" stroke="#c80000" stroke-width="1.70" fill="none" stroke-linecap="round"/>
<path d="M385.50,224.50Q395.20,235.25 385.50,246.00" stroke="#c80000" stroke-width="1.70" fill="none" stroke-linecap="round"/>
<text transform="matrix(0.8388 0 0 0.8256 370.61 241.79)" style="font-family:'Liberation Sans'" font-size="25.0" fill="#c80000">a</text>
<path d="M450.30,325.50Q440.20,338.50 450.30,351.50" stroke="#78dc14" stroke-width="1.70" fill="none" stroke-linecap="round"/>
<path d="M474.10,325.50Q485.20,338.50 474.10,351.50" stroke="#78dc14" stroke-width="1.70" fill="none" stroke-linecap="round"/>
<text transform="matrix(1.1378 0 0 1.0014 454.15 346.45)" style="font-family:'Liberation Sans'" font-size="25.0" fill="#78dc14">b</text>
<path d="M467.70,380.90Q457.60,394.30 467.70,407.70" stroke="#e8b800" stroke-width="1.70" fill="none" stroke-linecap="round"/>
<path d="M490.70,380.90Q500.80,394.30 490.70,407.70" stroke="#e8b800" stroke-width="1.70" fill="none" stroke-linecap="round"/>
<text transform="matrix(1.2465 0 0 0.9717 471.58 402.36)" style="font-family:'Liberation Sans'" font-size="25.0" fill="#e8b800">c</text>
<path d="M485.70,437.10Q475.60,450.05 485.70,463.00" stroke="#4a46cc" stroke-width="1.10" fill="none" stroke-linecap="round"/>
<path d="M510.00,437.10Q520.10,450.05 510.00,463.00" stroke="#4a46cc" stroke-width="1.10" fill="none" stroke-linecap="round"/>
<text transform="matrix(1.2906 0 0 1.0610 488.97 458.23)" style="font-family:'Liberation Serif'" font-size="25.0" fill="#6a68d6">d</text>
<path d="M612.20,214.60Q600.50,227.90 612.20,241.20" stroke="#e87a00" stroke-width="1.70" fill="none" stroke-linecap="round"/>
<path d="M632.80,214.60Q644.50,227.90 632.80,241.20" stroke="#e87a00" stroke-width="1.70" fill="none" stroke-linecap="round"/>
<text transform="matrix(1.0723 0 0 0.9790 615.06 235.46)" style="font-family:'Liberation Sans'" font-size="25.0" fill="#e87a00">e</text>
</svg></body></html>
